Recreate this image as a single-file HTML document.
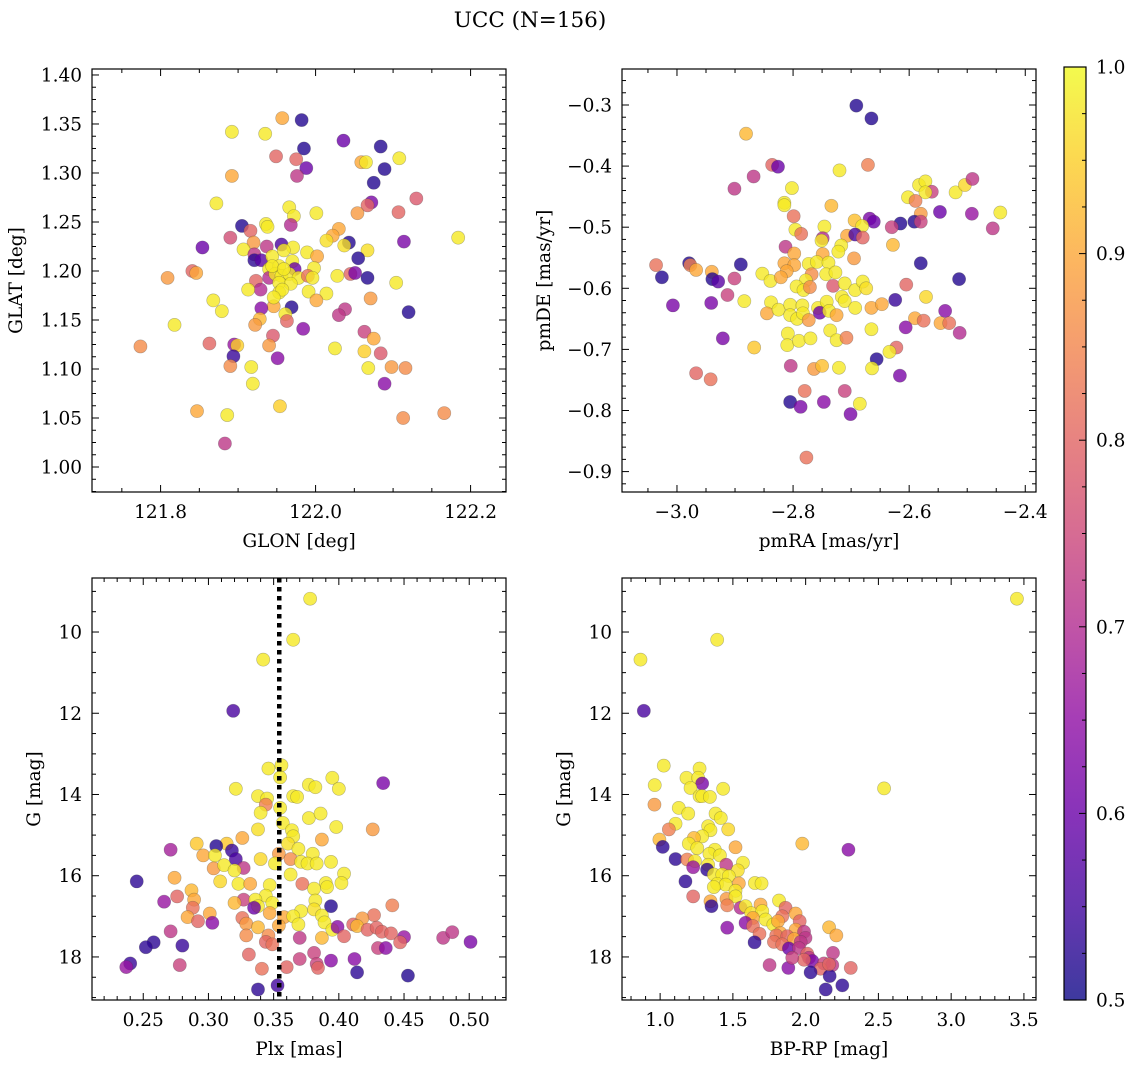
<!DOCTYPE html>
<html><head><meta charset="utf-8">
<style>
html,body{margin:0;padding:0;background:#fff;}
svg{display:block;font-family:"DejaVu Serif","Liberation Serif",serif;}
</style></head>
<body>
<svg id="fig" width="1136" height="1067" viewBox="0 0 1136 1067" xmlns="http://www.w3.org/2000/svg">
<defs>
<linearGradient id="plasma" x1="0" y1="1" x2="0" y2="0">
<stop offset="0" stop-color="#0d0887"/><stop offset="0.1" stop-color="#41049d"/><stop offset="0.2" stop-color="#6a00a8"/><stop offset="0.3" stop-color="#8f0da4"/><stop offset="0.4" stop-color="#b12a90"/><stop offset="0.5" stop-color="#cc4778"/><stop offset="0.6" stop-color="#e16462"/><stop offset="0.7" stop-color="#f2844b"/><stop offset="0.8" stop-color="#fca636"/><stop offset="0.9" stop-color="#fcce25"/><stop offset="1" stop-color="#f0f921"/>
</linearGradient>
</defs>
<text x="530" y="27" font-size="21.5" text-anchor="middle">UCC (N=156)</text>
</svg>
<script>
// Panel 1: GLON / GLAT
const glon=[121.957,121.982,121.892,121.935,122.036,122.084,121.985,121.949,121.975,122.059,122.065,122.108,121.988,122.089,121.976,121.892,122.075,121.872,122.130,122.072,122.067,122.054,122.107,121.966,121.972,122.001,121.905,121.936,121.938,121.968,121.916,122.030,121.890,122.022,122.014,121.854,121.920,122.043,122.037,122.114,122.184,121.907,121.937,121.956,121.971,121.989,122.002,122.067,121.921,121.921,121.930,121.944,121.959,122.055,121.940,121.953,121.970,121.998,121.973,121.841,121.846,121.809,121.940,121.948,121.956,121.966,121.978,121.990,121.996,122.028,122.045,122.051,122.067,122.104,121.923,121.929,121.913,121.953,121.968,121.991,122.014,121.953,122.001,122.071,121.868,121.879,121.946,121.930,121.969,121.961,121.963,122.038,122.030,122.120,121.928,121.922,121.818,121.984,121.945,122.063,122.075,121.774,121.863,121.895,121.899,121.940,122.025,122.063,122.084,121.894,121.951,121.890,121.917,122.068,122.098,122.116,122.089,121.919,121.847,121.886,121.954,122.113,122.166,121.883,121.944,121.959,121.957,121.946];
const glat=[1.356,1.354,1.342,1.340,1.333,1.327,1.325,1.317,1.314,1.311,1.311,1.315,1.305,1.304,1.297,1.297,1.290,1.269,1.274,1.270,1.267,1.259,1.260,1.265,1.256,1.259,1.246,1.248,1.245,1.247,1.241,1.243,1.234,1.236,1.231,1.224,1.229,1.229,1.226,1.230,1.234,1.222,1.225,1.227,1.224,1.219,1.215,1.221,1.217,1.211,1.211,1.215,1.221,1.213,1.202,1.205,1.210,1.203,1.202,1.200,1.198,1.193,1.193,1.197,1.195,1.197,1.193,1.195,1.193,1.195,1.197,1.198,1.193,1.188,1.190,1.181,1.181,1.188,1.187,1.179,1.177,1.178,1.170,1.172,1.170,1.159,1.164,1.162,1.163,1.156,1.149,1.161,1.155,1.158,1.151,1.145,1.145,1.141,1.134,1.138,1.131,1.123,1.126,1.125,1.124,1.124,1.121,1.118,1.116,1.113,1.111,1.103,1.102,1.101,1.102,1.101,1.085,1.085,1.057,1.053,1.062,1.050,1.055,1.024,1.205,1.202,1.181,1.173];
const prob1=[0.9,0.52,0.98,0.98,0.6,0.52,0.52,0.8,0.8,0.9,0.98,0.98,0.6,0.52,0.72,0.9,0.52,0.98,0.78,0.62,0.8,0.88,0.8,0.98,0.98,0.98,0.52,0.98,0.98,0.7,0.8,0.9,0.76,0.9,0.97,0.6,0.88,0.52,0.97,0.62,0.98,0.98,0.72,0.56,0.98,0.98,0.9,0.97,0.72,0.53,0.58,0.98,0.98,0.52,0.98,0.98,0.98,0.98,0.6,0.8,0.9,0.88,0.7,0.98,0.98,0.98,0.98,0.82,0.98,0.98,0.8,0.62,0.52,0.98,0.8,0.7,0.98,0.98,0.98,0.98,0.98,0.98,0.9,0.88,0.98,0.98,0.9,0.64,0.52,0.98,0.8,0.72,0.72,0.52,0.92,0.88,0.98,0.64,0.78,0.74,0.9,0.86,0.8,0.66,0.95,0.88,0.98,0.95,0.78,0.54,0.64,0.86,0.98,0.98,0.88,0.86,0.64,0.98,0.9,0.98,0.95,0.86,0.86,0.72,0.98,0.98,0.98,0.98];
// Panel 2: pmRA / pmDE
const pmra=[-2.691,-2.665,-2.881,-2.836,-2.826,-2.671,-2.720,-2.868,-2.901,-2.802,-2.815,-2.815,-2.734,-2.583,-2.572,-2.561,-2.572,-2.602,-2.589,-2.520,-2.504,-2.491,-2.443,-2.492,-2.456,-2.547,-2.580,-2.591,-2.580,-2.615,-2.630,-2.799,-2.668,-2.661,-2.694,-2.681,-2.746,-2.796,-2.786,-2.749,-2.751,-2.707,-2.693,-2.680,-2.717,-2.722,-2.628,-2.813,-2.798,-2.749,-2.695,-2.580,-2.514,-3.036,-2.979,-2.977,-2.967,-3.026,-2.940,-2.939,-2.929,-2.901,-2.890,-2.815,-2.798,-2.811,-2.773,-2.759,-2.739,-2.768,-2.743,-2.727,-2.853,-2.839,-2.821,-2.778,-2.794,-2.782,-2.771,-2.731,-2.711,-2.693,-2.680,-2.674,-2.605,-2.913,-3.007,-2.941,-2.884,-2.838,-2.845,-2.825,-2.805,-2.784,-2.805,-2.793,-2.783,-2.757,-2.754,-2.742,-2.738,-2.725,-2.716,-2.711,-2.693,-2.665,-2.647,-2.624,-2.571,-2.538,-2.590,-2.575,-2.546,-2.531,-2.513,-2.606,-2.773,-2.665,-2.921,-2.867,-2.809,-2.810,-2.790,-2.770,-2.736,-2.725,-2.708,-2.622,-2.634,-2.656,-2.804,-2.764,-2.750,-2.721,-2.664,-2.616,-2.967,-2.942,-2.780,-2.711,-2.805,-2.787,-2.747,-2.685,-2.701,-2.777];
const pmde=[-0.301,-0.322,-0.347,-0.398,-0.401,-0.398,-0.407,-0.417,-0.437,-0.436,-0.460,-0.464,-0.465,-0.431,-0.425,-0.442,-0.443,-0.451,-0.457,-0.443,-0.431,-0.421,-0.476,-0.478,-0.502,-0.475,-0.478,-0.491,-0.491,-0.494,-0.500,-0.482,-0.486,-0.491,-0.489,-0.498,-0.499,-0.504,-0.511,-0.518,-0.522,-0.514,-0.512,-0.517,-0.530,-0.540,-0.529,-0.532,-0.543,-0.544,-0.551,-0.559,-0.585,-0.562,-0.559,-0.562,-0.570,-0.582,-0.573,-0.585,-0.589,-0.584,-0.561,-0.559,-0.562,-0.572,-0.560,-0.557,-0.558,-0.577,-0.577,-0.574,-0.576,-0.588,-0.582,-0.587,-0.597,-0.603,-0.598,-0.596,-0.592,-0.603,-0.589,-0.600,-0.594,-0.611,-0.628,-0.624,-0.621,-0.623,-0.641,-0.635,-0.627,-0.628,-0.644,-0.650,-0.641,-0.632,-0.640,-0.622,-0.637,-0.644,-0.614,-0.621,-0.632,-0.632,-0.626,-0.619,-0.614,-0.637,-0.649,-0.653,-0.657,-0.657,-0.673,-0.664,-0.652,-0.667,-0.682,-0.697,-0.674,-0.693,-0.686,-0.682,-0.669,-0.685,-0.681,-0.697,-0.704,-0.716,-0.727,-0.732,-0.727,-0.730,-0.731,-0.743,-0.739,-0.749,-0.768,-0.768,-0.786,-0.794,-0.786,-0.789,-0.806,-0.877];
const prob2=[0.52,0.52,0.92,0.8,0.6,0.84,0.98,0.72,0.72,0.98,0.98,0.98,0.92,0.98,0.98,0.74,0.98,0.98,0.84,0.98,0.96,0.72,0.98,0.66,0.72,0.6,0.88,0.52,0.74,0.52,0.74,0.82,0.62,0.6,0.93,0.98,0.98,0.98,0.82,0.7,0.98,0.9,0.56,0.8,0.98,0.98,0.92,0.72,0.9,0.9,0.88,0.52,0.52,0.82,0.52,0.84,0.9,0.52,0.9,0.52,0.58,0.74,0.52,0.9,0.9,0.9,0.98,0.98,0.98,0.86,0.98,0.98,0.98,0.98,0.9,0.98,0.98,0.98,0.86,0.78,0.98,0.98,0.98,0.97,0.8,0.74,0.62,0.62,0.98,0.98,0.9,0.98,0.98,0.98,0.98,0.98,0.98,0.98,0.6,0.98,0.98,0.9,0.98,0.98,0.98,0.9,0.9,0.54,0.96,0.64,0.9,0.82,0.9,0.82,0.7,0.64,0.88,0.98,0.62,0.94,0.98,0.98,0.98,0.98,0.98,0.98,0.84,0.8,0.98,0.52,0.72,0.88,0.93,0.98,0.98,0.62,0.8,0.82,0.82,0.74,0.52,0.62,0.64,0.98,0.62,0.82];
// Panel 3: Plx / G
const plx=[0.378,0.365,0.342,0.319,0.346,0.356,0.355,0.321,0.395,0.377,0.382,0.400,0.434,0.338,0.345,0.344,0.365,0.368,0.340,0.355,0.377,0.386,0.357,0.338,0.398,0.426,0.364,0.365,0.326,0.387,0.361,0.291,0.314,0.306,0.271,0.369,0.318,0.296,0.305,0.354,0.380,0.321,0.340,0.363,0.371,0.376,0.383,0.394,0.351,0.327,0.304,0.312,0.320,0.363,0.404,0.245,0.274,0.309,0.323,0.332,0.347,0.372,0.390,0.391,0.402,0.381,0.287,0.276,0.289,0.266,0.327,0.344,0.336,0.382,0.394,0.441,0.320,0.338,0.349,0.288,0.335,0.301,0.347,0.371,0.381,0.284,0.292,0.303,0.326,0.329,0.358,0.365,0.387,0.389,0.369,0.427,0.418,0.411,0.414,0.338,0.354,0.395,0.399,0.422,0.429,0.433,0.440,0.271,0.329,0.346,0.370,0.387,0.404,0.450,0.447,0.480,0.487,0.501,0.258,0.252,0.280,0.344,0.349,0.430,0.436,0.331,0.381,0.370,0.394,0.412,0.383,0.384,0.240,0.237,0.278,0.341,0.360,0.414,0.453,0.338,0.353];
const gmag3=[9.18,10.19,10.68,11.94,13.36,13.28,13.58,13.86,13.59,13.76,13.82,13.86,13.72,14.04,14.10,14.25,14.04,14.06,14.45,14.33,14.58,14.47,14.70,14.86,14.80,14.86,14.88,15.03,15.07,15.11,15.21,15.21,15.21,15.27,15.36,15.34,15.38,15.50,15.50,15.46,15.46,15.59,15.59,15.59,15.66,15.70,15.70,15.66,15.70,15.81,15.82,15.74,15.87,15.97,15.95,16.14,16.05,16.14,16.20,16.20,16.23,16.20,16.18,16.28,16.18,16.32,16.36,16.51,16.59,16.64,16.59,16.49,16.59,16.61,16.75,16.73,16.67,16.75,16.67,16.79,16.79,16.93,16.92,16.87,16.83,17.02,17.12,17.16,17.04,17.18,17.02,17.00,16.98,17.15,17.20,16.97,17.05,17.20,17.24,17.27,17.23,17.33,17.26,17.33,17.28,17.38,17.42,17.37,17.47,17.47,17.53,17.53,17.49,17.51,17.64,17.53,17.39,17.63,17.64,17.76,17.72,17.63,17.69,17.78,17.78,17.94,17.90,18.05,18.09,18.05,18.17,18.27,18.16,18.25,18.20,18.29,18.25,18.38,18.46,18.80,18.70];
const prob3=[0.98,0.98,0.98,0.56,0.98,0.98,0.98,0.98,0.98,0.98,0.98,0.98,0.62,0.98,0.98,0.84,0.98,0.98,0.98,0.98,0.98,0.98,0.98,0.97,0.98,0.88,0.98,0.98,0.9,0.9,0.97,0.94,0.94,0.52,0.68,0.98,0.54,0.9,0.98,0.88,0.98,0.56,0.96,0.86,0.98,0.98,0.98,0.98,0.98,0.72,0.88,0.98,0.98,0.98,0.98,0.53,0.9,0.96,0.98,0.9,0.98,0.82,0.98,0.98,0.98,0.98,0.92,0.8,0.9,0.66,0.74,0.98,0.98,0.98,0.52,0.84,0.92,0.98,0.98,0.82,0.6,0.9,0.9,0.98,0.97,0.9,0.8,0.64,0.82,0.88,0.9,0.98,0.98,0.98,0.98,0.82,0.88,0.8,0.92,0.92,0.9,0.98,0.64,0.8,0.8,0.8,0.8,0.72,0.86,0.86,0.72,0.92,0.8,0.66,0.8,0.72,0.72,0.62,0.53,0.53,0.54,0.8,0.82,0.74,0.64,0.8,0.74,0.74,0.64,0.64,0.74,0.8,0.54,0.66,0.74,0.82,0.8,0.53,0.52,0.53,0.55];
// Panel 4: BP-RP / G
const bprp=[3.452,1.392,0.865,0.888,1.025,1.271,0.963,1.181,1.261,1.289,1.209,1.433,2.539,1.271,1.289,1.342,0.961,1.128,1.193,1.381,1.417,1.106,1.060,1.330,1.346,1.468,1.289,1.232,0.995,1.977,2.294,1.018,1.197,1.255,1.376,1.518,1.106,1.186,1.239,1.339,1.411,1.569,1.454,1.227,1.330,1.323,1.534,1.369,1.427,1.472,1.174,1.392,1.450,1.541,1.651,1.697,1.369,1.518,1.227,1.456,1.518,1.817,1.346,1.353,1.461,1.553,1.587,1.690,1.862,1.626,1.702,1.931,1.839,1.638,1.725,1.778,1.810,1.959,1.461,1.587,1.638,2.161,1.931,1.989,1.826,1.683,1.798,1.874,1.920,1.999,2.211,1.782,1.839,1.649,1.966,1.885,1.954,2.011,2.023,2.188,2.046,2.126,2.183,2.103,2.310,1.752,1.881,2.034,2.165,2.252,2.138,1.989,1.908,2.161];
const gmag4=[9.18,10.19,10.68,11.94,13.29,13.36,13.77,13.59,13.59,13.73,13.84,13.86,13.85,14.04,14.04,14.06,14.25,14.33,14.47,14.47,14.58,14.72,14.86,14.78,14.88,14.86,15.03,15.07,15.11,15.21,15.36,15.29,15.21,15.32,15.36,15.30,15.59,15.60,15.64,15.46,15.50,15.68,15.73,15.79,15.73,15.85,15.87,15.97,15.97,16.01,16.14,16.20,16.22,16.19,16.18,16.19,16.28,16.37,16.51,16.57,16.51,16.61,16.63,16.75,16.73,16.79,16.75,16.71,16.79,16.92,16.87,16.93,17.00,17.04,17.08,17.20,17.12,17.12,17.28,17.16,17.24,17.27,17.33,17.38,17.41,17.43,17.47,17.49,17.56,17.53,17.47,17.63,17.69,17.64,17.63,17.79,17.78,17.92,18.02,17.90,18.10,18.16,18.20,18.29,18.27,18.20,18.27,18.38,18.47,18.70,18.80,18.07,18.02,18.18];
const prob4=[0.98,0.98,0.98,0.56,0.98,0.98,0.98,0.98,0.98,0.62,0.98,0.98,0.98,0.98,0.98,0.98,0.88,0.98,0.98,0.98,0.98,0.98,0.84,0.98,0.98,0.96,0.98,0.92,0.92,0.92,0.64,0.53,0.98,0.98,0.98,0.9,0.53,0.84,0.98,0.98,0.98,0.98,0.72,0.66,0.98,0.53,0.97,0.98,0.98,0.98,0.53,0.98,0.98,0.9,0.98,0.98,0.98,0.98,0.8,0.88,0.98,0.98,0.9,0.53,0.84,0.7,0.98,0.9,0.8,0.97,0.98,0.9,0.82,0.9,0.98,0.98,0.9,0.8,0.64,0.64,0.82,0.92,0.9,0.72,0.9,0.82,0.82,0.8,0.9,0.72,0.9,0.82,0.82,0.53,0.72,0.6,0.72,0.8,0.72,0.72,0.62,0.74,0.72,0.8,0.8,0.72,0.64,0.53,0.53,0.53,0.53,0.8,0.74,0.8];
const cbarTicks=[0.5,0.6,0.7,0.8,0.9,1.0];
const plxRef=[0.3543];

const NS='http://www.w3.org/2000/svg';
const svg=document.getElementById('fig');
const TF=18.5;
function mk(tag,attrs,parent){const e=document.createElementNS(NS,tag);for(const k in attrs)e.setAttribute(k,attrs[k]);(parent||svg).appendChild(e);return e;}
const stops=[[0,13,8,135],[0.1,65,4,157],[0.2,106,0,168],[0.3,143,13,164],[0.4,177,42,144],[0.5,204,71,120],[0.6,225,100,98],[0.7,242,132,75],[0.8,252,166,54],[0.9,252,206,37],[1,240,249,33]];
function plasma(v){let t=Math.max(0,Math.min(1,(v-0.5)/0.5));for(let i=1;i<stops.length;i++){if(t<=stops[i][0]){const a=stops[i-1],b=stops[i],f=(t-a[0])/(b[0]-a[0]);return 'rgb('+[1,2,3].map(j=>Math.round(a[j]+(b[j]-a[j])*f)).join(',')+')';}}return 'rgb(240,249,33)';}
function fmt(v,d,neg){const s=(neg?-v:v).toFixed(d);return s.replace('-','\u2212');}

function panel(c){
  const g=mk('g',{});
  
  
  const X=v=>c.x0+(v-c.xmin)/(c.xmax-c.xmin)*(c.x1-c.x0);
  const Y=v=>c.y1-(v-c.ymin)/(c.ymax-c.ymin)*(c.y1-c.y0);
  const clip='clip-'+c.name;
  const cp=mk('clipPath',{id:clip},g);mk('rect',{x:c.x0,y:c.y0,width:c.x1-c.x0,height:c.y1-c.y0},cp);
  const pts=mk('g',{'clip-path':'url(#'+clip+')'},g);
  for(let i=0;i<c.xs.length;i++){
    const p=mk('circle',{cx:X(c.xs[i]),cy:Y(c.ys[i]),r:6.6,fill:plasma(c.ps[i]),'fill-opacity':0.8,stroke:'rgba(60,60,60,0.35)','stroke-width':0.6},pts);
    
    
  }
  if(c.vline){for(const v of c.vline){
    const l=mk('line',{x1:X(v),x2:X(v),y1:c.y0,y2:c.y1,stroke:'#000','stroke-width':4.5,'stroke-dasharray':'4.5 4.5'},pts);
    
    
  }}
  const fr=mk('rect',{x:c.x0,y:c.y0,width:c.x1-c.x0,height:c.y1-c.y0,fill:'none',stroke:'#000','stroke-width':1.2},g);
  
  
  const xt=mk('g',{},g);
  
  
  const startM=Math.ceil(c.xmin/c.xminor-1e-6);
  for(let k=startM;k*c.xminor<=c.xmax+1e-9;k++){
    const v=k*c.xminor;const px=X(v);
    const major=Math.abs(v/c.xmajor-Math.round(v/c.xmajor))<1e-6;
    const L=major?7:4;
    mk('line',{x1:px,x2:px,y1:c.y1,y2:c.y1-L,stroke:'#000','stroke-width':1},xt);
    mk('line',{x1:px,x2:px,y1:c.y0,y2:c.y0+L,stroke:'#000','stroke-width':1},xt);
    if(major){const t=mk('text',{x:px,y:c.y1+26,'font-size':TF,'text-anchor':'middle'},xt);t.textContent=fmt(v,c.xdec,false);}
  }
  const xl=mk('text',{x:(c.x0+c.x1)/2,y:c.y1+55,'font-size':TF,'text-anchor':'middle'},g);
  
  
  xl.textContent=c.xlabel;
  const yt=mk('g',{},g);
  
  
  const s2=Math.ceil(c.ymin/c.yminor-1e-6);
  for(let k=s2;k*c.yminor<=c.ymax+1e-9;k++){
    const v=k*c.yminor;const py=Y(v);
    const major=Math.abs(v/c.ymajor-Math.round(v/c.ymajor))<1e-6;
    const L=major?7:4;
    mk('line',{x1:c.x0,x2:c.x0+L,y1:py,y2:py,stroke:'#000','stroke-width':1},yt);
    mk('line',{x1:c.x1,x2:c.x1-L,y1:py,y2:py,stroke:'#000','stroke-width':1},yt);
    if(major){const t=mk('text',{x:c.x0-10,y:py+6.5,'font-size':TF,'text-anchor':'end'},yt);t.textContent=fmt(v,c.ydec,c.negY);}
  }
  const yl=mk('text',{x:c.ylx,y:(c.y0+c.y1)/2,'font-size':TF,'text-anchor':'middle',transform:'rotate(-90 '+c.ylx+' '+(c.y0+c.y1)/2+')'},g);
  
  
  yl.textContent=c.ylabel;
}
panel({name:'glon-glat-panel',x0:92,x1:506,y0:69,y1:492,xmin:121.7115,xmax:122.2457,ymin:0.9745,ymax:1.4061,xmajor:0.2,xminor:0.05,ymajor:0.05,yminor:0.0125,xdec:1,ydec:2,xs:glon,ys:glat,ps:prob1,xlabel:'GLON [deg]',ylabel:'GLAT [deg]',ylx:22});
panel({name:'pm-panel',x0:622,x1:1036,y0:69,y1:492,xmin:-3.0947,xmax:-2.3815,ymin:-0.9334,ymax:-0.2411,xmajor:0.2,xminor:0.05,ymajor:0.1,yminor:0.02,xdec:1,ydec:1,xs:pmra,ys:pmde,ps:prob2,xlabel:'pmRA [mas/yr]',ylabel:'pmDE [mas/yr]',ylx:550});
panel({name:'plx-g-panel',x0:92,x1:506,y0:578,y1:1000,xmin:0.2107,xmax:0.5282,ymin:-19.06,ymax:-8.67,xmajor:0.05,xminor:0.01,ymajor:2,yminor:0.5,xdec:2,ydec:0,negY:true,xs:plx,ys:gmag3.map(v=>-v),ps:prob3,xlabel:'Plx [mas]',ylabel:'G [mag]',ylx:40,vline:plxRef});
panel({name:'cmd-panel',x0:622,x1:1036,y0:578,y1:1000,xmin:0.738,xmax:3.583,ymin:-19.06,ymax:-8.67,xmajor:0.5,xminor:0.1,ymajor:2,yminor:0.5,xdec:1,ydec:0,negY:true,xs:bprp,ys:gmag4.map(v=>-v),ps:prob4,xlabel:'BP-RP [mag]',ylabel:'G [mag]',ylx:570});
// colorbar
const cb=mk('g',{});


const cbx0=1064,cbx1=1086,cby0=67,cby1=1000;
mk('rect',{x:cbx0,y:cby0,width:cbx1-cbx0,height:cby1-cby0,fill:'url(#plasma)','fill-opacity':0.8},cb);
mk('rect',{x:cbx0,y:cby0,width:cbx1-cbx0,height:cby1-cby0,fill:'none',stroke:'#000','stroke-width':1.2},cb);
const CY=v=>cby1-(v-0.5)/0.5*(cby1-cby0);
for(let k=20;k<=40;k++){const v=k*0.025;const py=CY(v);const major=k%4===0;
  mk('line',{x1:cbx1,x2:cbx1-(major?7:4),y1:py,y2:py,stroke:'#000','stroke-width':1},cb);}
for(const v of cbarTicks){const t=mk('text',{x:cbx1+10,y:CY(v)+6.5,'font-size':TF},cb);
  
  
  t.textContent=v.toFixed(1);}
</script>
</body></html>
